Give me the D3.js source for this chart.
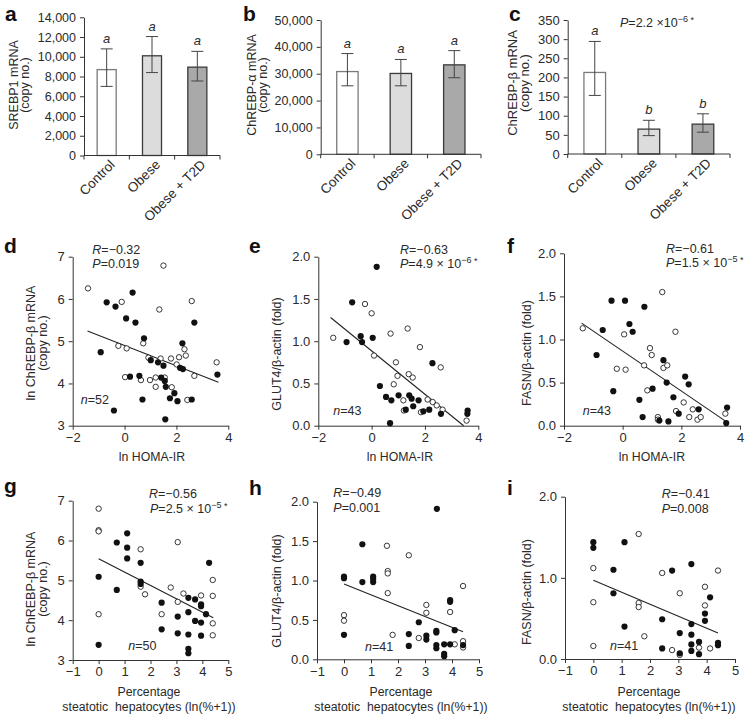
<!DOCTYPE html>
<html><head><meta charset="utf-8">
<script src="https://cdn.jsdelivr.net/npm/d3@7"></script>
<style>
body{margin:0;background:#fff;}
svg text{font-family:"Liberation Sans",Arial,Helvetica,sans-serif;fill:#2a2a2a;}
</style></head>
<body><svg id="c" width="749" height="718"></svg>
<script>
// ---------- DATA ----------
const barCategories = ["Control", "Obese", "Obese + T2D"];
const srebp1Mean = [8700, 10100, 8950];
const srebp1Low  = [7000, 8400, 7550];
const srebp1High = [10800, 12050, 10550];
const srebp1Letters = ["a", "a", "a"];
const chrebpAMean = [30800, 30100, 33300];
const chrebpALow  = [25500, 25500, 28500];
const chrebpAHigh = [37500, 35300, 38600];
const chrebpALetters = ["a", "a", "a"];
const chrebpBMean = [213, 65, 78];
const chrebpBLow  = [153, 48, 57];
const chrebpBHigh = [294, 88, 105];
const chrebpBLetters = ["a", "b", "b"];
const srebp1Ticks = [0, 2000, 4000, 6000, 8000, 10000, 12000, 14000];
const chrebpATicks = [0, 10000, 20000, 30000, 40000, 50000];
const chrebpBTicks = [0, 50, 100, 150, 200, 250, 300, 350];

const homaTicks = [-2, 0, 2, 4];
const steatTicks = [-1, 0, 1, 2, 3, 4, 5];
const lnTicks = [3, 4, 5, 6, 7];
const foldTicks = [0, 0.5, 1.0, 1.5, 2.0];
const foldTicksI = [0, 1.0, 2.0];

const dOpen = [[-1.41,6.25],[1.50,6.79],[-0.11,5.93],[1.34,5.75],[2.59,5.95],[-0.24,4.89],[0.08,4.83],[0.72,4.95],[0.92,4.61],[1.39,4.59],[1.79,4.59],[2.10,4.62],[2.31,4.81],[2.36,4.66],[2.01,4.45],[3.55,4.50],[2.69,4.18],[0.02,4.15],[0.63,4.08],[0.98,4.08],[1.20,4.14],[1.20,3.92],[1.55,4.14],[1.82,3.91],[2.42,3.61]];
const dFilled = [[-0.92,4.74],[-0.69,5.92],[-0.35,5.82],[0.31,6.15],[0.06,5.54],[0.42,5.44],[0.75,5.07],[0.21,4.16],[0.57,4.18],[0.69,3.62],[-0.41,3.36],[1.01,4.55],[1.29,4.50],[1.50,4.42],[1.41,4.14],[1.55,4.06],[1.59,3.92],[1.75,3.65],[1.92,3.77],[2.04,3.58],[1.57,3.15],[2.23,4.95],[2.14,4.37],[2.25,4.34],[2.59,3.62],[2.69,5.44],[3.58,4.21]];
const dLine = [[-1.43,5.24],[3.62,4.03]];

const eOpen = [[-1.44,1.04],[-0.25,1.44],[0.00,1.33],[0.09,0.83],[0.71,1.09],[1.35,1.15],[1.81,0.93],[0.91,0.75],[0.97,0.59],[1.39,0.61],[1.54,0.57],[0.83,0.49],[1.19,0.30],[1.21,0.18],[1.85,0.16],[2.10,0.31],[2.29,0.28],[2.44,0.24],[2.66,0.19],[2.59,0.69],[3.56,0.06]];
const eFilled = [[0.19,1.88],[-0.73,1.46],[-0.94,0.99],[-0.41,1.06],[-0.36,0.99],[0.04,1.04],[0.31,0.47],[0.54,0.34],[0.74,0.30],[0.69,0.03],[1.01,0.36],[1.28,0.19],[1.41,0.36],[1.50,0.32],[1.56,0.23],[1.76,0.30],[1.94,0.17],[2.16,0.19],[2.28,0.74],[2.60,0.14],[3.60,0.18],[3.59,0.14]];
const eLine = [[-1.54,1.28],[3.45,0.0]];

const fOpen = [[-1.36,1.13],[0.05,1.06],[1.35,1.55],[1.80,1.09],[0.93,0.90],[0.99,0.82],[-0.20,0.66],[0.10,0.65],[0.73,0.70],[1.39,0.67],[1.52,0.70],[0.84,0.41],[1.20,0.10],[1.20,0.07],[2.08,0.27],[1.82,0.17],[2.27,0.10],[2.39,0.19],[2.55,0.07],[2.66,0.10],[3.50,0.14]];
const fFilled = [[-0.38,1.45],[0.08,1.45],[0.74,1.38],[-0.68,1.11],[0.23,1.18],[0.34,1.09],[-0.89,0.82],[-0.32,0.40],[0.57,0.30],[0.68,0.10],[1.02,0.43],[1.39,0.76],[1.50,0.50],[1.73,0.33],[2.13,0.57],[2.25,0.48],[1.91,0.14],[1.25,0.06],[1.56,0.05],[2.59,0.19],[3.56,0.21],[3.53,0.03]];
const fLine = [[-1.40,1.19],[3.52,0.05]];

const gOpen = [[0,6.80],[0,6.26],[0,6.23],[0,4.15],[1.62,5.78],[1.62,4.84],[1.79,4.65],[3.05,5.96],[2.78,4.82],[3.05,4.46],[3.27,4.67],[3.95,4.62],[2.43,4.15],[4.40,5.01],[4.40,4.61],[4.40,3.92],[4.40,3.62]];
const gFilled = [[0,5.09],[0,3.38],[0.70,5.95],[0.70,4.76],[1.10,6.18],[1.10,5.82],[1.10,5.55],[1.62,5.44],[1.62,4.97],[1.62,4.91],[2.43,4.44],[2.43,3.77],[3.05,4.09],[3.05,3.67],[3.46,4.56],[3.46,4.20],[3.46,3.64],[3.46,3.28],[3.46,3.17],[3.72,4.52],[3.72,3.98],[3.95,4.40],[3.95,4.35],[3.95,3.94],[3.95,3.61],[4.14,4.15],[4.26,5.44]];
const gLine = [[0,5.54],[4.42,4.06]];

const hOpen = [[0,0.56],[0,0.49],[1.59,1.44],[1.62,1.12],[1.62,1.09],[1.62,0.84],[2.40,1.32],[1.80,0.31],[2.77,0.27],[3.05,0.69],[3.05,0.59],[3.93,0.60],[4.10,0.19],[4.41,0.93],[4.41,0.23],[4.41,0.15]];
const hFilled = [[0,1.05],[0,1.03],[0,0.31],[0.68,1.46],[0.68,0.98],[1.08,1.05],[1.08,1.02],[1.08,0.98],[2.40,0.32],[2.40,0.17],[2.77,0.47],[3.05,0.30],[3.05,0.25],[3.44,1.91],[3.42,0.36],[3.42,0.34],[3.42,0.18],[3.42,0.14],[3.71,0.07],[3.71,0.04],[3.71,0.19],[3.93,0.75],[3.93,0.73],[3.93,0.19],[4.10,0.37],[4.41,0.18]];
const hLine = [[0,0.955],[4.41,0.35]];

const iOpen = [[0,1.12],[0,0.70],[0,0.16],[1.60,1.54],[1.60,0.69],[1.60,0.64],[1.80,0.28],[2.43,1.06],[2.78,0.11],[3.05,0.81],[3.05,0.05],[3.73,0.14],[3.94,0.89],[3.94,0.66],[4.12,0.13],[4.40,1.09]];
const iFilled = [[0,1.44],[0,1.37],[0.71,1.10],[0.71,0.81],[1.10,1.44],[1.10,0.40],[2.43,0.49],[2.43,0.13],[2.78,1.09],[3.05,0.32],[3.05,0.07],[3.46,1.17],[3.46,0.43],[3.46,0.30],[3.46,0.18],[3.46,0.10],[3.73,0.21],[3.73,0.06],[3.94,0.56],[3.94,0.47],[4.12,0.76],[4.40,0.20],[4.40,0.17]];
const iLine = [[0,0.97],[4.40,0.32]];

// ---------- DRAW ----------
const svg = d3.select("#c");
const AX = "#333";
const FS = 12;
const TFS = 13;

function panelLetter(t, x, y) {
  svg.append("text").attr("x", x).attr("y", y).attr("font-size", 21)
    .attr("font-weight", "bold").style("fill", "#111").text(t);
}
function yLabel(lines, cx, cy, gap, fs) {
  const n = lines.length;
  lines.forEach((l, i) => {
    const x = cx + (i - (n - 1) / 2) * gap;
    svg.append("text").attr("transform", `translate(${x},${cy}) rotate(-90)`)
      .attr("text-anchor", "middle").attr("dominant-baseline", "central")
      .attr("font-size", fs || 12.5).text(l);
  });
}
function styleAxis(g, fs) {
  g.selectAll("path,line").attr("stroke", AX).attr("stroke-width", 1);
  g.selectAll("text").attr("font-size", fs || TFS).style("fill", "#2a2a2a")
    .attr("font-family", '"Liberation Sans",Arial,sans-serif');
}

function barPanel(o) {
  const x = d3.scaleBand().domain(barCategories).range([o.x0, o.x1]).padding(0);
  const y = d3.scaleLinear().domain([0, o.ticks[o.ticks.length - 1]]).range([o.yB, o.yT]);
  const g = svg.append("g");
  const fills = ["#ffffff", "#dcdcdc", "#a9a9a9"];
  const strokes = ["#7a7a7a", "#3a3a3a", "#3a3a3a"];
  const bw = x.bandwidth() * o.bf;
  barCategories.forEach((c, i) => {
    const cx = x(c) + x.bandwidth() / 2;
    g.append("rect").attr("x", cx - bw / 2).attr("y", y(o.mean[i]))
      .attr("width", bw).attr("height", y(0) - y(o.mean[i]))
      .attr("fill", fills[i]).attr("stroke", strokes[i]).attr("stroke-width", 1.3);
    g.append("line").attr("x1", cx).attr("x2", cx).attr("y1", y(o.lo[i])).attr("y2", y(o.hi[i]))
      .attr("stroke", "#444").attr("stroke-width", 1);
    [o.lo[i], o.hi[i]].forEach(v => g.append("line").attr("x1", cx - 6).attr("x2", cx + 6)
      .attr("y1", y(v)).attr("y2", y(v)).attr("stroke", "#444").attr("stroke-width", 1));
    g.append("text").attr("x", cx).attr("y", y(o.hi[i]) - 6).attr("text-anchor", "middle")
      .attr("font-size", 13).attr("font-style", "italic").text(o.letters[i]);
    g.append("text").attr("transform", `translate(${cx + 9},${o.yB + 10}) rotate(-45)`)
      .attr("text-anchor", "end").attr("font-size", 13.5).text(c);
  });
  g.append("line").attr("x1", o.x0).attr("x2", o.x1).attr("y1", o.yB).attr("y2", o.yB)
    .attr("stroke", AX);
  [0, 1, 2, 3].forEach(k => {
    const xx = o.x0 + k * x.bandwidth();
    g.append("line").attr("x1", xx).attr("x2", xx).attr("y1", o.yB).attr("y2", o.yB + 4).attr("stroke", AX);
  });
  const ya = svg.append("g").attr("transform", `translate(${o.x0},0)`)
    .call(d3.axisLeft(y).tickValues(o.ticks).tickSize(4).tickPadding(4).tickFormat(d3.format(",")).tickSizeOuter(0));
  styleAxis(ya, o.fs);
}

barPanel({x0: 84, x1: 220, yT: 17.3, yB: 155.5, ticks: srebp1Ticks, mean: srebp1Mean, lo: srebp1Low, hi: srebp1High, letters: srebp1Letters, bf: 0.42, fs: 12.5});
barPanel({x0: 320.7, x1: 481, yT: 20, yB: 154.3, ticks: chrebpATicks, mean: chrebpAMean, lo: chrebpALow, hi: chrebpAHigh, letters: chrebpALetters, bf: 0.40, fs: 12.5});
barPanel({x0: 567.7, x1: 730, yT: 20, yB: 154, ticks: chrebpBTicks, mean: chrebpBMean, lo: chrebpBLow, hi: chrebpBHigh, letters: chrebpBLetters, bf: 0.40, fs: 13});

yLabel(["SREBP1 mRNA", "(copy no.)"], 19, 85, 11, 12.5);
yLabel(["ChREBP-\u03b1 mRNA", "(copy no.)"], 257, 85, 11, 12.5);
yLabel(["ChREBP-\u03b2 mRNA", "(copy no.)"], 518, 83, 12, 13);

function statLine(x, y, parts) {
  const t = svg.append("text").attr("x", x).attr("y", y).attr("font-size", 12.5);
  parts.forEach(p => {
    const s = t.append("tspan").text(p.t);
    if (p.i) s.attr("font-style", "italic");
    if (p.sup) s.attr("baseline-shift", "super").attr("font-size", 9);
    if (p.star) s.attr("baseline-shift", "4").attr("font-size", 9);
  });
  return t;
}
statLine(620, 26.5, [{t: "P", i: 1}, {t: "=2.2 \u00d710"}, {t: "\u22126", sup: 1}, {t: " *", star: 1}]);

function scatterPanel(o) {
  const x = d3.scaleLinear().domain([o.xt[0], o.xt[o.xt.length - 1]]).range(o.xr);
  const y = d3.scaleLinear().domain([o.yt[0], o.yt[o.yt.length - 1]]).range(o.yr);
  const xa = svg.append("g").attr("transform", `translate(0,${o.yr[0]})`)
    .call(d3.axisBottom(x).tickValues(o.xt).tickSize(4).tickPadding(3).tickSizeOuter(0)
      .tickFormat(d => d < 0 ? "\u2212" + Math.abs(d) : String(d)));
  styleAxis(xa);
  const ya = svg.append("g").attr("transform", `translate(${o.xr[0]},0)`)
    .call(d3.axisLeft(y).tickValues(o.yt).tickSize(4).tickPadding(4).tickSizeOuter(0)
      .tickFormat(o.yfmt));
  styleAxis(ya);
  const g = svg.append("g");
  g.append("line").attr("x1", x(o.line[0][0])).attr("y1", y(o.line[0][1]))
    .attr("x2", x(o.line[1][0])).attr("y2", y(o.line[1][1])).attr("stroke", "#222").attr("stroke-width", 1.1);
  g.selectAll(".op").data(o.open).enter().append("circle")
    .attr("cx", d => x(d[0])).attr("cy", d => y(d[1])).attr("r", 2.7)
    .attr("fill", "#fff").attr("stroke", "#222").attr("stroke-width", 0.9);
  g.selectAll(".fi").data(o.filled).enter().append("circle")
    .attr("cx", d => x(d[0])).attr("cy", d => y(d[1])).attr("r", 3.1)
    .attr("fill", "#111");
}

const fmtInt = d3.format("d");
const fmt1 = d3.format(".1f");
scatterPanel({xr: [72.7, 228.3], yr: [425.7, 256.7], xt: homaTicks, yt: lnTicks, yfmt: fmtInt, open: dOpen, filled: dFilled, line: dLine});
scatterPanel({xr: [318.3, 478.3], yr: [425.7, 256.7], xt: homaTicks, yt: foldTicks, yfmt: fmt1, open: eOpen, filled: eFilled, line: eLine});
scatterPanel({xr: [564, 740], yr: [425.7, 253.3], xt: homaTicks, yt: foldTicks, yfmt: fmt1, open: fOpen, filled: fFilled, line: fLine});
scatterPanel({xr: [72.7, 228.3], yr: [660, 500.7], xt: steatTicks, yt: lnTicks, yfmt: fmtInt, open: gOpen, filled: gFilled, line: gLine});
scatterPanel({xr: [317, 479], yr: [659.3, 501.7], xt: steatTicks, yt: foldTicks, yfmt: fmt1, open: hOpen, filled: hFilled, line: hLine});
scatterPanel({xr: [565, 735], yr: [659, 496.7], xt: steatTicks, yt: foldTicksI, yfmt: fmt1, open: iOpen, filled: iFilled, line: iLine});

yLabel(["ln ChREBP-\u03b2 mRNA", "(copy no.)"], 37, 343, 12);
yLabel(["GLUT4/\u03b2-actin (fold)"], 277, 354, 12);
yLabel(["FASN/\u03b2-actin (fold)"], 527, 353, 12);
yLabel(["ln ChREBP-\u03b2 mRNA", "(copy no.)"], 37, 589, 12);
yLabel(["GLUT4/\u03b2-actin (fold)"], 277, 591, 12);
yLabel(["FASN/\u03b2-actin (fold)"], 527, 592, 12);

function xLabel(lines, cx, y0) {
  lines.forEach((l, i) => svg.append("text").attr("x", cx).attr("y", y0 + i * 15)
    .attr("text-anchor", "middle").attr("font-size", 12.3).attr("xml:space", "preserve").text(l));
}
xLabel(["ln HOMA-IR"], 152, 461);
xLabel(["ln HOMA-IR"], 400, 461);
xLabel(["ln HOMA-IR"], 652, 461);
xLabel(["Percentage", "steatotic  hepatocytes (ln(%+1))"], 149, 696);
xLabel(["Percentage", "steatotic  hepatocytes (ln(%+1))"], 401, 696);
xLabel(["Percentage", "steatotic  hepatocytes (ln(%+1))"], 649, 696);

statLine(92.3, 254, [{t: "R", i: 1}, {t: "=\u22120.32"}]);
statLine(92.3, 268, [{t: "P", i: 1}, {t: "=0.019"}]);
statLine(80.7, 404, [{t: "n", i: 1}, {t: "=52"}]);
statLine(400, 254, [{t: "R", i: 1}, {t: "=\u22120.63"}]);
statLine(400, 268, [{t: "P", i: 1}, {t: "=4.9 \u00d7 10"}, {t: "\u22126", sup: 1}, {t: " *", star: 1}]);
statLine(333.3, 415, [{t: "n", i: 1}, {t: "=43"}]);
statLine(666, 252.7, [{t: "R", i: 1}, {t: "=\u22120.61"}]);
statLine(666, 267.3, [{t: "P", i: 1}, {t: "=1.5 \u00d7 10"}, {t: "\u22125", sup: 1}, {t: " *", star: 1}]);
statLine(582.7, 415, [{t: "n", i: 1}, {t: "=43"}]);
statLine(149, 498, [{t: "R", i: 1}, {t: "=\u22120.56"}]);
statLine(150, 513, [{t: "P", i: 1}, {t: "=2.5 \u00d7 10"}, {t: "\u22125", sup: 1}, {t: " *", star: 1}]);
statLine(128.3, 650, [{t: "n", i: 1}, {t: "=50"}]);
statLine(333.3, 497.3, [{t: "R", i: 1}, {t: "=\u22120.49"}]);
statLine(333.3, 512.3, [{t: "P", i: 1}, {t: "=0.001"}]);
statLine(365, 650.7, [{t: "n", i: 1}, {t: "=41"}]);
statLine(661.7, 498.3, [{t: "R", i: 1}, {t: "=\u22120.41"}]);
statLine(661.7, 512.7, [{t: "P", i: 1}, {t: "=0.008"}]);
statLine(610, 650, [{t: "n", i: 1}, {t: "=41"}]);

panelLetter("a", 5, 21);
panelLetter("b", 243, 21);
panelLetter("c", 509, 21);
panelLetter("d", 4, 253);
panelLetter("e", 249, 253);
panelLetter("f", 507, 253);
panelLetter("g", 4, 493);
panelLetter("h", 249, 495);
panelLetter("i", 507, 495);
</script></body></html>
